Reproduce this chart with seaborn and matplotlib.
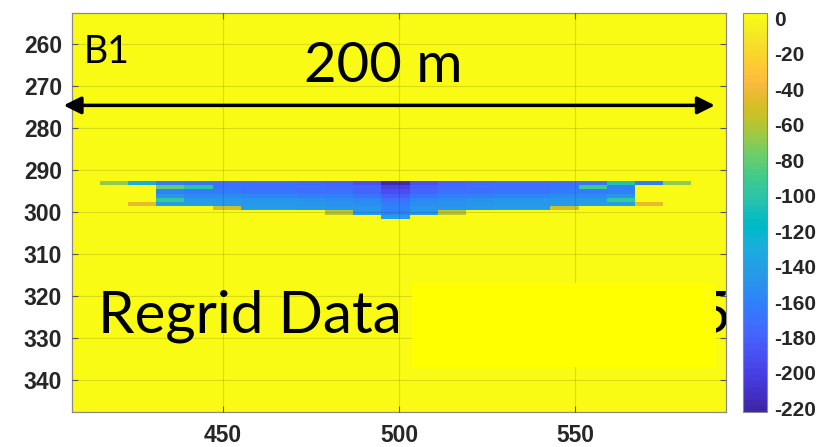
import numpy as np
import pandas as pd
import matplotlib
matplotlib.use("Agg")
import matplotlib.pyplot as plt
import seaborn as sns
from matplotlib.colors import ListedColormap
from matplotlib.patches import Rectangle

# ---------------- data ----------------
x_ticks = [450, 500, 550]
y_ticks = [260, 270, 280, 290, 300, 310, 320, 330, 340]
cbar_ticks = [0, -20, -40, -60, -80, -100, -120, -140, -160, -180, -200, -220]

# regrid cells: 8 m wide, 1 m tall
grid_x0, grid_dx, grid_nx = 407, 8, 24
grid_y0, grid_dy, grid_ny = 252.5, 1.0, 95
x_limits = (407, 593)

# anomaly rows: top depth of row, x start of first cell, values of consecutive cells
anomaly_depth = [292.5, 293.5, 294.5, 295.5, 296.5, 297.5, 298.5, 299.5, 300.5]
anomaly_x0 = [415, 431, 431, 431, 431, 423, 447, 479, 495]
row_0 = [-70, -130, -165, -168, -170, -172, -172, -174, -178, -188, -215, -190, -178, -174, -172, -172, -170, -168, -105, -165, -70]
row_1 = [-80, -100, -168, -170, -172, -172, -174, -178, -200, -180, -174, -172, -172, -170, -168, -90, -160]
row_2 = [-160, -163, -165, -167, -168, -170, -172, -178, -192, -178, -172, -170, -168, -167, -165, -163, -160]
row_3 = [-148, -152, -155, -157, -158, -160, -162, -168, -182, -168, -162, -160, -158, -157, -155, -152, -148]
row_4 = [-95, -142, -145, -147, -148, -150, -152, -158, -172, -158, -152, -150, -148, -147, -145, -142, -95]
row_5 = [-45, -138, -140, -142, -145, -147, -148, -150, -155, -165, -155, -150, -148, -147, -145, -142, -140, -138, -45]
row_6 = [-50, -138, -140, -142, -145, -148, -160, -148, -145, -142, -140, -138, -50]
row_7 = [-60, -148, -160, -148, -60]
row_8 = [-140]
anomaly_values = [row_0, row_1, row_2, row_3, row_4, row_5, row_6, row_7, row_8]

# ---------------- colormap (parula) ----------------
parula_list = [
    [0.2422, 0.1504, 0.6603], [0.2504, 0.1650, 0.7076], [0.2578, 0.1818, 0.7511], [0.2647, 0.1978, 0.7952],
    [0.2706, 0.2147, 0.8364], [0.2751, 0.2342, 0.8710], [0.2783, 0.2559, 0.8991], [0.2803, 0.2782, 0.9221],
    [0.2813, 0.3006, 0.9414], [0.2810, 0.3228, 0.9579], [0.2795, 0.3447, 0.9717], [0.2760, 0.3667, 0.9829],
    [0.2699, 0.3892, 0.9906], [0.2602, 0.4123, 0.9952], [0.2440, 0.4358, 0.9988], [0.2206, 0.4603, 0.9973],
    [0.1963, 0.4847, 0.9892], [0.1834, 0.5074, 0.9798], [0.1786, 0.5289, 0.9682], [0.1764, 0.5499, 0.9520],
    [0.1687, 0.5703, 0.9359], [0.1540, 0.5902, 0.9218], [0.1460, 0.6091, 0.9079], [0.1380, 0.6276, 0.8973],
    [0.1248, 0.6459, 0.8883], [0.1113, 0.6635, 0.8763], [0.0952, 0.6798, 0.8598], [0.0689, 0.6948, 0.8394],
    [0.0297, 0.7082, 0.8163], [0.0036, 0.7203, 0.7917], [0.0067, 0.7312, 0.7660], [0.0433, 0.7411, 0.7394],
    [0.0964, 0.7500, 0.7120], [0.1408, 0.7584, 0.6842], [0.1717, 0.7670, 0.6554], [0.1938, 0.7758, 0.6251],
    [0.2161, 0.7843, 0.5923], [0.2470, 0.7918, 0.5567], [0.2906, 0.7973, 0.5188], [0.3406, 0.8008, 0.4789],
    [0.3909, 0.8029, 0.4354], [0.4456, 0.8024, 0.3909], [0.5044, 0.7993, 0.3480], [0.5616, 0.7942, 0.3045],
    [0.6174, 0.7876, 0.2612], [0.6720, 0.7793, 0.2227], [0.7242, 0.7698, 0.1910], [0.7738, 0.7598, 0.1646],
    [0.8203, 0.7498, 0.1535], [0.8634, 0.7406, 0.1596], [0.9035, 0.7330, 0.1774], [0.9393, 0.7288, 0.2100],
    [0.9728, 0.7298, 0.2394], [0.9956, 0.7434, 0.2371], [0.9970, 0.7659, 0.2199], [0.9952, 0.7893, 0.2028],
    [0.9892, 0.8136, 0.1885], [0.9786, 0.8386, 0.1766], [0.9676, 0.8639, 0.1643], [0.9610, 0.8890, 0.1537],
    [0.9597, 0.9135, 0.1423], [0.9628, 0.9373, 0.1265], [0.9691, 0.9606, 0.1064], [0.9769, 0.9839, 0.0805],
]
parula = ListedColormap(parula_list, name="parula")

# ---------------- build grid ----------------
grid = np.zeros((grid_ny, grid_nx))
for depth, xs, vals in zip(anomaly_depth, anomaly_x0, anomaly_values):
    r = int(round((depth - grid_y0) / grid_dy))
    c = int(round((xs - grid_x0) / grid_dx))
    grid[r, c:c + len(vals)] = vals

df = pd.DataFrame(grid,
                  index=grid_y0 + grid_dy * (np.arange(grid_ny) + 0.5),
                  columns=grid_x0 + grid_dx * (np.arange(grid_nx) + 0.5))


def fx(v):
    return (v - grid_x0) / grid_dx


def fy(v):
    return (v - grid_y0) / grid_dy


# ---------------- plot ----------------
sns.set_style("white")
plt.rcParams["font.family"] = ["Liberation Sans", "DejaVu Sans"]

fig = plt.figure(figsize=(8.25, 4.47), dpi=100)
ax = fig.add_axes([0.0869, 0.0783, 0.7937, 0.8927])
cax = fig.add_axes([0.9003, 0.0783, 0.0291, 0.8927])

sns.heatmap(df, ax=ax, cbar_ax=cax, cmap=parula, vmin=-222, vmax=3,
            xticklabels=False, yticklabels=False)

ax.set_xlim(fx(x_limits[0]), fx(x_limits[1]))
ax.set_ylim(grid_ny, 0)
ax.set_xlabel("")
ax.set_ylabel("")

tick_font = dict(fontsize=16.5, fontweight="bold", color="#262626")
ax.set_xticks([fx(v) for v in x_ticks])
ax.set_xticklabels([str(v) for v in x_ticks], **tick_font)
ax.set_yticks([fy(v) for v in y_ticks])
ax.set_yticklabels([str(v) for v in y_ticks], **tick_font)
ax.tick_params(direction="in", length=4, width=0.8, color="#555555",
               top=True, right=True, bottom=True, left=True)
ax.tick_params(axis="y", pad=7)
ax.tick_params(axis="x", pad=9)
ax.grid(True, color="black", alpha=0.12, linewidth=0.8)
ax.set_axisbelow(False)
for sp in ax.spines.values():
    sp.set_visible(True)
    sp.set_color("#8a8a8a")
    sp.set_linewidth(0.9)

cb = ax.collections[0].colorbar
cb.set_ticks(cbar_ticks)
cb.set_ticklabels([str(v) for v in cbar_ticks])
for t in cax.get_yticklabels():
    t.set_fontsize(15)
    t.set_fontweight("bold")
    t.set_color("#262626")
cax.tick_params(direction="in", length=3, width=0.8, color="#555555", pad=5)
cb.outline.set_visible(True)
cb.outline.set_linewidth(0.8)
cb.outline.set_edgecolor("#8a8a8a")

# ---------------- annotations ----------------
ann_font = ["Lato", "DejaVu Sans"]
ax.text(fx(410.5), fy(264.5), "B1", family=ann_font, fontsize=27, color="black",
        ha="left", va="baseline")
ax.text(fx(495.6), fy(269.0), "200 m", family=ann_font, fontsize=40.5, color="black",
        ha="center", va="baseline")
ax.annotate("", xy=(fx(589.7), fy(274.5)), xytext=(fx(404.7), fy(274.5)),
            arrowprops=dict(arrowstyle="<|-|>", lw=2.5, color="black",
                            mutation_scale=26, shrinkA=0, shrinkB=0),
            annotation_clip=False)
ax.text(fx(414.5), fy(328.6), "Regrid Data", family=ann_font, fontsize=42,
        color="black", ha="left", va="baseline", zorder=5)
ax.text(fx(584.5), fy(328.6), "5", family=ann_font, fontsize=42,
        color="black", ha="left", va="baseline", zorder=5, clip_on=True)
ax.add_patch(Rectangle((fx(503.8), fy(316.8)), fx(589.9) - fx(503.8), fy(336.7) - fy(316.8),
                       facecolor="#ffff00", edgecolor="none", zorder=6))

fig.savefig("out.png", dpi=100, facecolor="white")
